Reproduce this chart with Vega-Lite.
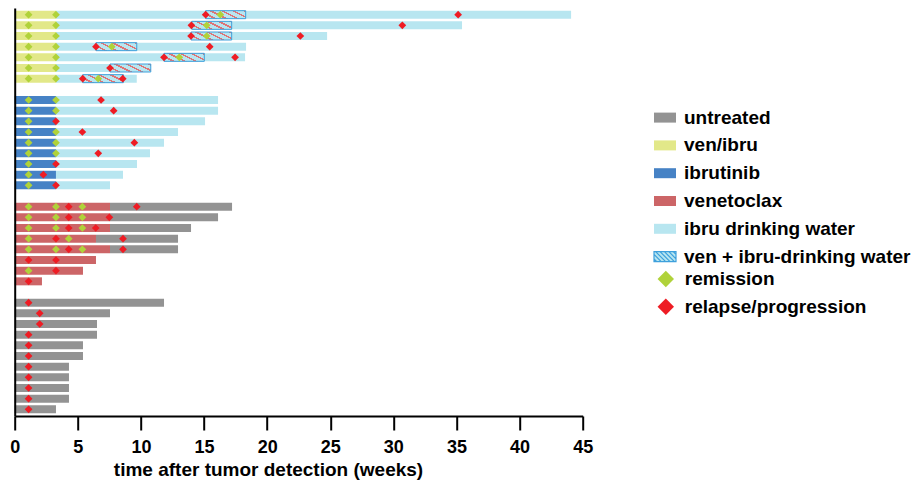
{
  "$schema": "https://vega.github.io/schema/vega-lite/v6.json",
  "autosize": {"type": "none"},
  "padding": {"left": 14.7, "top": 8, "right": 333.3, "bottom": 66},
  "width": 568,
  "height": 408,
  "background": "white",
  "config": {
    "view": {"stroke": null},
    "font": "Liberation Sans",
    "axis": {"labelFont": "Liberation Sans", "titleFont": "Liberation Sans", "labelColor": "black", "titleColor": "black"},
    "legend": {"labelFont": "Liberation Sans", "labelFontWeight": "bold", "labelFontSize": 19, "labelColor": "black", "labelLimit": 400, "padding": 0}
  },
  "datasets": {
    "bars": [
      {"row": "A1", "start": 0, "end": 3.27, "treatment": "ven/ibru"},
      {"row": "A1", "start": 3.27, "end": 44.08, "treatment": "ibru drinking water"},
      {"row": "A2", "start": 0, "end": 3.27, "treatment": "ven/ibru"},
      {"row": "A2", "start": 3.27, "end": 35.44, "treatment": "ibru drinking water"},
      {"row": "A3", "start": 0, "end": 3.27, "treatment": "ven/ibru"},
      {"row": "A3", "start": 3.27, "end": 24.75, "treatment": "ibru drinking water"},
      {"row": "A4", "start": 0, "end": 3.27, "treatment": "ven/ibru"},
      {"row": "A4", "start": 3.27, "end": 18.33, "treatment": "ibru drinking water"},
      {"row": "A5", "start": 0, "end": 3.27, "treatment": "ven/ibru"},
      {"row": "A5", "start": 3.27, "end": 18.25, "treatment": "ibru drinking water"},
      {"row": "A6", "start": 0, "end": 3.27, "treatment": "ven/ibru"},
      {"row": "A6", "start": 3.27, "end": 10.78, "treatment": "ibru drinking water"},
      {"row": "A7", "start": 0, "end": 3.27, "treatment": "ven/ibru"},
      {"row": "A7", "start": 3.27, "end": 9.67, "treatment": "ibru drinking water"},
      {"row": "B1", "start": 0, "end": 3.27, "treatment": "ibrutinib"},
      {"row": "B1", "start": 3.27, "end": 16.11, "treatment": "ibru drinking water"},
      {"row": "B2", "start": 0, "end": 3.27, "treatment": "ibrutinib"},
      {"row": "B2", "start": 3.27, "end": 16.11, "treatment": "ibru drinking water"},
      {"row": "B3", "start": 0, "end": 3.27, "treatment": "ibrutinib"},
      {"row": "B3", "start": 3.27, "end": 15.08, "treatment": "ibru drinking water"},
      {"row": "B4", "start": 0, "end": 3.27, "treatment": "ibrutinib"},
      {"row": "B4", "start": 3.27, "end": 12.94, "treatment": "ibru drinking water"},
      {"row": "B5", "start": 0, "end": 3.27, "treatment": "ibrutinib"},
      {"row": "B5", "start": 3.27, "end": 11.83, "treatment": "ibru drinking water"},
      {"row": "B6", "start": 0, "end": 3.27, "treatment": "ibrutinib"},
      {"row": "B6", "start": 3.27, "end": 10.72, "treatment": "ibru drinking water"},
      {"row": "B7", "start": 0, "end": 3.27, "treatment": "ibrutinib"},
      {"row": "B7", "start": 3.27, "end": 9.69, "treatment": "ibru drinking water"},
      {"row": "B8", "start": 0, "end": 3.27, "treatment": "ibrutinib"},
      {"row": "B8", "start": 3.27, "end": 8.58, "treatment": "ibru drinking water"},
      {"row": "B9", "start": 0, "end": 3.27, "treatment": "ibrutinib"},
      {"row": "B9", "start": 3.27, "end": 7.55, "treatment": "ibru drinking water"},
      {"row": "C1", "start": 0, "end": 7.55, "treatment": "venetoclax"},
      {"row": "C1", "start": 7.55, "end": 17.22, "treatment": "untreated"},
      {"row": "C2", "start": 0, "end": 7.55, "treatment": "venetoclax"},
      {"row": "C2", "start": 7.55, "end": 16.11, "treatment": "untreated"},
      {"row": "C3", "start": 0, "end": 7.55, "treatment": "venetoclax"},
      {"row": "C3", "start": 7.55, "end": 13.97, "treatment": "untreated"},
      {"row": "C4", "start": 0, "end": 6.44, "treatment": "venetoclax"},
      {"row": "C4", "start": 6.44, "end": 12.94, "treatment": "untreated"},
      {"row": "C5", "start": 0, "end": 7.55, "treatment": "venetoclax"},
      {"row": "C5", "start": 7.55, "end": 12.94, "treatment": "untreated"},
      {"row": "C6", "start": 0, "end": 6.44, "treatment": "venetoclax"},
      {"row": "C7", "start": 0, "end": 5.41, "treatment": "venetoclax"},
      {"row": "C8", "start": 0, "end": 2.16, "treatment": "venetoclax"},
      {"row": "D1", "start": 0, "end": 11.83, "treatment": "untreated"},
      {"row": "D2", "start": 0, "end": 7.55, "treatment": "untreated"},
      {"row": "D3", "start": 0, "end": 6.52, "treatment": "untreated"},
      {"row": "D4", "start": 0, "end": 6.52, "treatment": "untreated"},
      {"row": "D5", "start": 0, "end": 5.41, "treatment": "untreated"},
      {"row": "D6", "start": 0, "end": 5.41, "treatment": "untreated"},
      {"row": "D7", "start": 0, "end": 4.3, "treatment": "untreated"},
      {"row": "D8", "start": 0, "end": 4.3, "treatment": "untreated"},
      {"row": "D9", "start": 0, "end": 4.3, "treatment": "untreated"},
      {"row": "D10", "start": 0, "end": 4.3, "treatment": "untreated"},
      {"row": "D11", "start": 0, "end": 3.27, "treatment": "untreated"}
    ],
    "hatch": [
      {"row": "A1", "start": 15.13, "end": 18.3},
      {"row": "A2", "start": 14.03, "end": 17.19},
      {"row": "A3", "start": 13.97, "end": 17.19},
      {"row": "A4", "start": 6.44, "end": 9.67},
      {"row": "A5", "start": 11.83, "end": 15.02},
      {"row": "A6", "start": 7.55, "end": 10.78},
      {"row": "A7", "start": 5.39, "end": 8.61}
    ],
    "events": [
      {"row": "A1", "t": 1.1, "event": "remission"},
      {"row": "A1", "t": 3.27, "event": "remission"},
      {"row": "A1", "t": 16.29, "event": "remission"},
      {"row": "A1", "t": 15.13, "event": "relapse/progression"},
      {"row": "A1", "t": 35.13, "event": "relapse/progression"},
      {"row": "A2", "t": 1.1, "event": "remission"},
      {"row": "A2", "t": 3.27, "event": "remission"},
      {"row": "A2", "t": 15.21, "event": "remission"},
      {"row": "A2", "t": 14.0, "event": "relapse/progression"},
      {"row": "A2", "t": 30.71, "event": "relapse/progression"},
      {"row": "A3", "t": 1.1, "event": "remission"},
      {"row": "A3", "t": 3.27, "event": "remission"},
      {"row": "A3", "t": 15.21, "event": "remission"},
      {"row": "A3", "t": 13.97, "event": "relapse/progression"},
      {"row": "A3", "t": 22.63, "event": "relapse/progression"},
      {"row": "A4", "t": 1.1, "event": "remission"},
      {"row": "A4", "t": 3.27, "event": "remission"},
      {"row": "A4", "t": 7.69, "event": "remission"},
      {"row": "A4", "t": 6.44, "event": "relapse/progression"},
      {"row": "A4", "t": 15.45, "event": "relapse/progression"},
      {"row": "A5", "t": 1.1, "event": "remission"},
      {"row": "A5", "t": 3.27, "event": "remission"},
      {"row": "A5", "t": 13.04, "event": "remission"},
      {"row": "A5", "t": 11.83, "event": "relapse/progression"},
      {"row": "A5", "t": 17.46, "event": "relapse/progression"},
      {"row": "A6", "t": 1.1, "event": "remission"},
      {"row": "A6", "t": 3.27, "event": "remission"},
      {"row": "A6", "t": 7.55, "event": "relapse/progression"},
      {"row": "A7", "t": 1.1, "event": "remission"},
      {"row": "A7", "t": 3.27, "event": "remission"},
      {"row": "A7", "t": 6.62, "event": "remission"},
      {"row": "A7", "t": 5.39, "event": "relapse/progression"},
      {"row": "A7", "t": 8.56, "event": "relapse/progression"},
      {"row": "B1", "t": 1.1, "event": "remission"},
      {"row": "B1", "t": 3.27, "event": "remission"},
      {"row": "B1", "t": 6.84, "event": "relapse/progression"},
      {"row": "B2", "t": 1.1, "event": "remission"},
      {"row": "B2", "t": 3.27, "event": "remission"},
      {"row": "B2", "t": 7.84, "event": "relapse/progression"},
      {"row": "B3", "t": 1.1, "event": "remission"},
      {"row": "B3", "t": 3.27, "event": "relapse/progression"},
      {"row": "B4", "t": 1.1, "event": "remission"},
      {"row": "B4", "t": 3.27, "event": "remission"},
      {"row": "B4", "t": 5.36, "event": "relapse/progression"},
      {"row": "B5", "t": 1.1, "event": "remission"},
      {"row": "B5", "t": 3.27, "event": "remission"},
      {"row": "B5", "t": 9.48, "event": "relapse/progression"},
      {"row": "B6", "t": 1.1, "event": "remission"},
      {"row": "B6", "t": 3.27, "event": "remission"},
      {"row": "B6", "t": 6.62, "event": "relapse/progression"},
      {"row": "B7", "t": 1.1, "event": "remission"},
      {"row": "B7", "t": 3.27, "event": "relapse/progression"},
      {"row": "B8", "t": 1.1, "event": "remission"},
      {"row": "B8", "t": 2.27, "event": "relapse/progression"},
      {"row": "B9", "t": 1.1, "event": "remission"},
      {"row": "B9", "t": 3.27, "event": "relapse/progression"},
      {"row": "C1", "t": 1.1, "event": "remission"},
      {"row": "C1", "t": 3.27, "event": "remission"},
      {"row": "C1", "t": 5.36, "event": "remission"},
      {"row": "C1", "t": 4.28, "event": "relapse/progression"},
      {"row": "C1", "t": 9.67, "event": "relapse/progression"},
      {"row": "C2", "t": 1.1, "event": "remission"},
      {"row": "C2", "t": 3.27, "event": "remission"},
      {"row": "C2", "t": 5.36, "event": "remission"},
      {"row": "C2", "t": 4.28, "event": "relapse/progression"},
      {"row": "C2", "t": 7.5, "event": "relapse/progression"},
      {"row": "C3", "t": 1.1, "event": "remission"},
      {"row": "C3", "t": 3.27, "event": "remission"},
      {"row": "C3", "t": 5.36, "event": "remission"},
      {"row": "C3", "t": 4.28, "event": "relapse/progression"},
      {"row": "C3", "t": 6.42, "event": "relapse/progression"},
      {"row": "C4", "t": 1.1, "event": "remission"},
      {"row": "C4", "t": 4.28, "event": "remission"},
      {"row": "C4", "t": 3.27, "event": "relapse/progression"},
      {"row": "C4", "t": 8.58, "event": "relapse/progression"},
      {"row": "C5", "t": 1.1, "event": "remission"},
      {"row": "C5", "t": 3.27, "event": "remission"},
      {"row": "C5", "t": 5.36, "event": "remission"},
      {"row": "C5", "t": 4.28, "event": "relapse/progression"},
      {"row": "C5", "t": 8.58, "event": "relapse/progression"},
      {"row": "C6", "t": 1.1, "event": "relapse/progression"},
      {"row": "C6", "t": 3.27, "event": "relapse/progression"},
      {"row": "C7", "t": 1.1, "event": "remission"},
      {"row": "C7", "t": 3.27, "event": "relapse/progression"},
      {"row": "C8", "t": 1.1, "event": "relapse/progression"},
      {"row": "D1", "t": 1.1, "event": "relapse/progression"},
      {"row": "D2", "t": 1.98, "event": "relapse/progression"},
      {"row": "D3", "t": 1.98, "event": "relapse/progression"},
      {"row": "D4", "t": 1.1, "event": "relapse/progression"},
      {"row": "D5", "t": 1.1, "event": "relapse/progression"},
      {"row": "D6", "t": 1.1, "event": "relapse/progression"},
      {"row": "D7", "t": 1.1, "event": "relapse/progression"},
      {"row": "D8", "t": 1.1, "event": "relapse/progression"},
      {"row": "D9", "t": 1.1, "event": "relapse/progression"},
      {"row": "D10", "t": 1.1, "event": "relapse/progression"},
      {"row": "D11", "t": 1.1, "event": "relapse/progression"}
    ]
  },
  "encoding": {
    "y": {
      "field": "row",
      "type": "nominal",
      "sort": null,
      "scale": {
        "domain": ["A1","A2","A3","A4","A5","A6","A7","g1","B1","B2","B3","B4","B5","B6","B7","B8","B9","g2","C1","C2","C3","C4","C5","C6","C7","C8","g3","D1","D2","D3","D4","D5","D6","D7","D8","D9","D10","D11"],
        "paddingInner": 0.25,
        "paddingOuter": 0.25
      },
      "axis": {"labels": false, "ticks": false, "title": null, "grid": false, "domainColor": "black", "domainWidth": 2, "zindex": 1}
    }
  },
  "layer": [
    {
      "data": {"name": "bars"},
      "mark": {"type": "bar"},
      "encoding": {
        "x": {
          "field": "start",
          "type": "quantitative",
          "scale": {"domain": [0, 45], "nice": false, "zero": false},
          "axis": {
            "values": [0, 5, 10, 15, 20, 25, 30, 35, 40, 45],
            "title": "time after tumor detection (weeks)",
            "grid": false,
            "domainColor": "black",
            "domainWidth": 2,
            "tickColor": "black",
            "tickWidth": 2,
            "tickSize": 14,
            "labelFontSize": 18,
            "labelFontWeight": "bold",
            "labelPadding": 8,
            "labelFlush": false,
            "titleFontSize": 19,
            "titleFontWeight": "bold",
            "titleX": 253.3,
            "titleY": 59.6,
            "titleBaseline": "alphabetic",
            "titleAlign": "center",
            "zindex": 1
          }
        },
        "x2": {"field": "end"},
        "color": {
          "field": "treatment",
          "type": "nominal",
          "scale": {
            "domain": ["untreated", "ven/ibru", "ibrutinib", "venetoclax", "ibru drinking water", "ven + ibru-drinking water"],
            "range": ["#939393", "#e2e889", "#4682c5", "#cc6567", "#b8e6f0", "#b8e6f0"]
          },
          "legend": {
            "title": null,
            "orient": "none",
            "legendX": 638.3,
            "legendY": 97.6,
            "symbolType": "M-1,-0.4545H1V0.4545H-1Z",
            "symbolSize": 484,
            "symbolStrokeWidth": 0,
            "labelOffset": 7,
            "rowPadding": 5.8,
            "encode": {
              "symbols": {
                "update": {
                  "shape": [
                    {"test": "datum.label === 'ven + ibru-drinking water'", "value": "M-1,-0.4545H1V0.4545H-1Z M-1,0.2L-0.7455,0.4545 M-1,-0.2L-0.3455,0.4545 M-0.8545,-0.4545L0.0545,0.4545 M-0.4545,-0.4545L0.4545,0.4545 M-0.0545,-0.4545L0.8545,0.4545 M0.3455,-0.4545L1,0.2 M0.7455,-0.4545L1,-0.2"},
                    {"value": "M-1,-0.4545H1V0.4545H-1Z"}
                  ],
                  "stroke": [
                    {"test": "datum.label === 'ven + ibru-drinking water'", "value": "#3ea0dc"},
                    {"value": "transparent"}
                  ],
                  "strokeWidth": {"value": 1.2}
                }
              }
            }
          }
        }
      }
    },
    {
      "data": {"name": "hatch"},
      "mark": {
        "type": "bar",
        "stroke": "#3ea0dc",
        "strokeWidth": 1,
        "fill": {"gradient": "linear", "x1": 0, "y1": 1, "x2": 1.207, "y2": 0.517, "stops": [
          {"offset": 0, "color": "#b8e6f0"}, {"offset": 0.14, "color": "#b8e6f0"}, {"offset": 0.14, "color": "#de7376"}, {"offset": 0.2, "color": "#de7376"},
          {"offset": 0.2, "color": "#b8e6f0"}, {"offset": 0.34, "color": "#b8e6f0"}, {"offset": 0.34, "color": "#de7376"}, {"offset": 0.4, "color": "#de7376"},
          {"offset": 0.4, "color": "#b8e6f0"}, {"offset": 0.54, "color": "#b8e6f0"}, {"offset": 0.54, "color": "#de7376"}, {"offset": 0.6, "color": "#de7376"},
          {"offset": 0.6, "color": "#b8e6f0"}, {"offset": 0.74, "color": "#b8e6f0"}, {"offset": 0.74, "color": "#de7376"}, {"offset": 0.8, "color": "#de7376"},
          {"offset": 0.8, "color": "#b8e6f0"}, {"offset": 0.94, "color": "#b8e6f0"}, {"offset": 0.94, "color": "#de7376"}, {"offset": 1, "color": "#de7376"}
        ]}
      },
      "encoding": {
        "x": {"field": "start", "type": "quantitative"},
        "x2": {"field": "end"}
      }
    },
    {
      "data": {"name": "events"},
      "mark": {"type": "point", "shape": "diamond", "filled": true, "size": 60, "opacity": 1},
      "encoding": {
        "x": {"field": "t", "type": "quantitative"},
        "fill": {
          "field": "event",
          "type": "nominal",
          "scale": {"domain": ["remission", "relapse/progression"], "range": ["#b0d23a", "#ee1c24"]},
          "legend": {
            "title": null,
            "orient": "none",
            "legendX": 641.6,
            "legendY": 261.5,
            "symbolType": "diamond",
            "symbolSize": 270,
            "symbolStrokeWidth": 0,
            "symbolOpacity": 1,
            "labelOffset": 9.5,
            "rowPadding": 7.7
          }
        }
      }
    }
  ]
}
